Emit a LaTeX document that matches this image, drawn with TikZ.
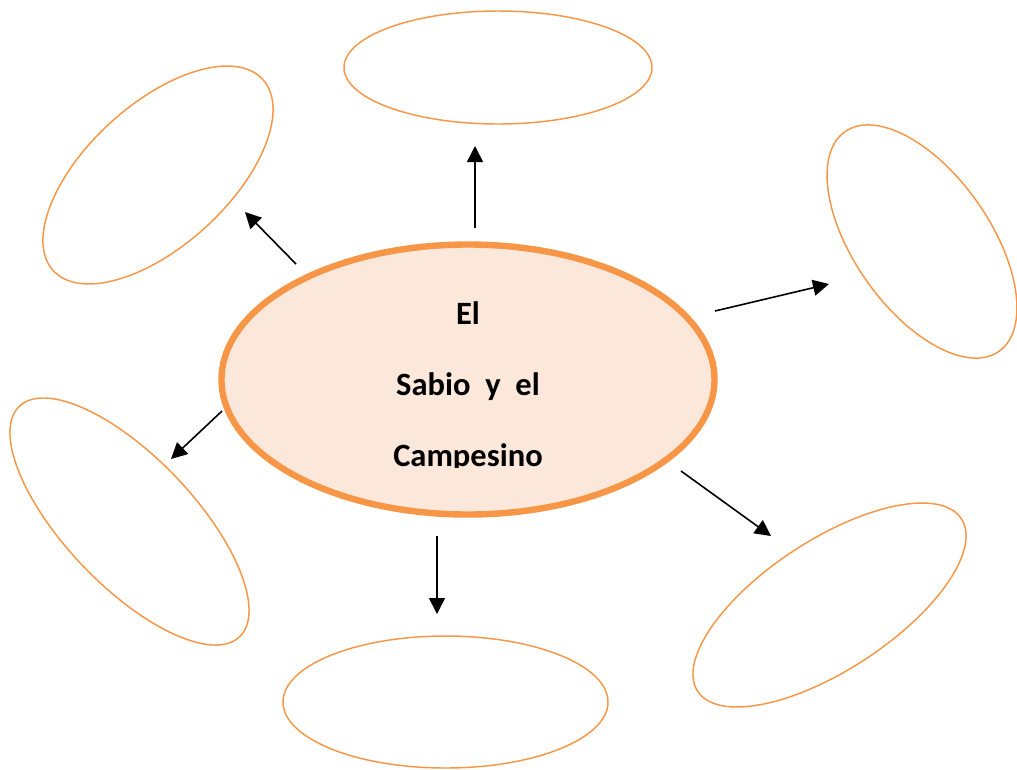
\documentclass[tikz,border=0pt]{standalone}
\usepackage{fontspec}
\setmainfont{Carlito}
\usepackage{adjustbox}
\usetikzlibrary{shapes.geometric, arrows.meta}

\definecolor{accentorange}{HTML}{F79646}
\definecolor{peach}{HTML}{FCE8DA}

\begin{document}
\begin{tikzpicture}[
  x=0.75pt, y=-0.75pt,
  bubble/.style={ellipse, draw=accentorange, line width=1.1pt, inner sep=0pt},
  hub/.style={ellipse, draw=accentorange, fill=peach, line width=4.8pt, inner sep=0pt, minimum width=369.75pt, minimum height=202.5pt, align=center, font=\bfseries\fontsize{24.4}{53.3}\selectfont},
  arrow/.style={-{Triangle[length=12pt, width=12pt]}, line width=1.2pt},
]
\useasboundingbox (0,0) rectangle (1017,769);

% Central ellipse
\node[hub] (hub) at (468,379.5) {\rule{0pt}{25pt}El\\Sabio\ \ y\ \ el\\\clipbox{0pt {\depth-1pt} 0pt 0pt}{Campesino}};

% Outer ellipses
\node[bubble, minimum width=231pt, minimum height=84.75pt] (top) at (498,67.5) {};
\node[bubble, minimum width=212.7pt, minimum height=106pt, rotate=42.4] (topleft) at (158,175) {};
\node[bubble, minimum width=201.2pt, minimum height=101.9pt, rotate=-55] (right) at (922,241.5) {};
\node[bubble, minimum width=239.1pt, minimum height=96.5pt, rotate=-46.3] (left) at (129.5,521.5) {};
\node[bubble, minimum width=236.3pt, minimum height=97.5pt, rotate=33.2] (bottomright) at (829.5,605) {};
\node[bubble, minimum width=243.75pt, minimum height=99pt] (bottom) at (445.5,702) {};

% Arrow ends
\coordinate (fromtop) at (475,228);
\coordinate (totop) at (475,146);
\coordinate (fromtopleft) at (296,264);
\coordinate (totopleft) at (245,212);
\coordinate (fromright) at (715,311);
\coordinate (toright) at (829,284);
\coordinate (fromleft) at (222,411);
\coordinate (toleft) at (171,459);
\coordinate (frombottomright) at (681,471);
\coordinate (tobottomright) at (771,536);
\coordinate (frombottom) at (437,536);
\coordinate (tobottom) at (437,614);

% Connections
\draw[arrow] (fromtop) -- (totop);
\draw[arrow] (fromtopleft) -- (totopleft);
\draw[arrow] (fromright) -- (toright);
\draw[arrow] (fromleft) -- (toleft);
\draw[arrow] (frombottomright) -- (tobottomright);
\draw[arrow] (frombottom) -- (tobottom);

\end{tikzpicture}
\end{document}
